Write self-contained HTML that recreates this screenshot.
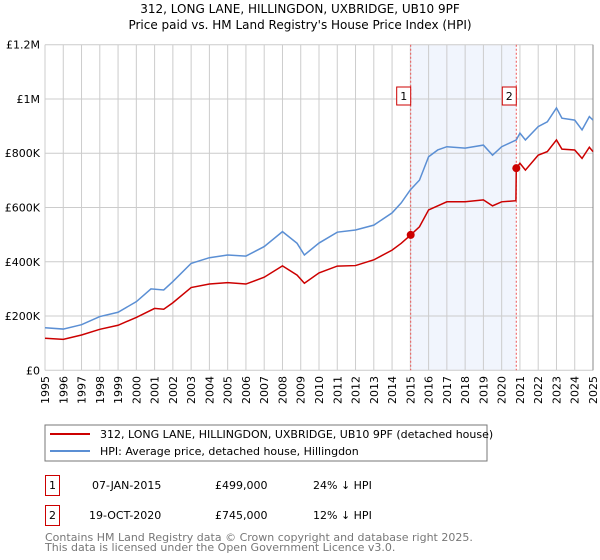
<!DOCTYPE html>
<html><head><meta charset="utf-8"><style>
body{margin:0;background:#fff;font-family:"DejaVu Sans","Liberation Sans",sans-serif;}
svg{display:block}
</style></head><body>
<svg width="600" height="560" viewBox="0 0 600 560">
<text x="300" y="13" text-anchor="middle" font-size="12">312, LONG LANE, HILLINGDON, UXBRIDGE, UB10 9PF</text>
<text x="300" y="29" text-anchor="middle" font-size="12">Price paid vs. HM Land Registry's House Price Index (HPI)</text>
<g id="plot"></g>
<rect x="45" y="425" width="442" height="36" fill="#fff" stroke="#777"/>
<line x1="50" y1="434" x2="90" y2="434" stroke="#cc0000" stroke-width="2"/>
<text x="100" y="438" font-size="11">312, LONG LANE, HILLINGDON, UXBRIDGE, UB10 9PF (detached house)</text>
<line x1="50" y1="451" x2="90" y2="451" stroke="#5b8fd4" stroke-width="2"/>
<text x="100" y="455" font-size="11">HPI: Average price, detached house, Hillingdon</text>
<g font-size="11">
<rect x="45.5" y="475.5" width="14" height="20" fill="#fff" stroke="#cc0000"/>
<text x="52.5" y="489" text-anchor="middle">1</text>
<text x="92" y="489">07-JAN-2015</text><text x="215" y="489">£499,000</text><text x="313" y="489">24% ↓ HPI</text>
<rect x="45.5" y="505.5" width="14" height="20" fill="#fff" stroke="#cc0000"/>
<text x="52.5" y="519" text-anchor="middle">2</text>
<text x="89" y="519">19-OCT-2020</text><text x="215" y="519">£745,000</text><text x="313" y="519">12% ↓ HPI</text>
</g>
<text x="45" y="541" font-size="11" fill="#777">Contains HM Land Registry data © Crown copyright and database right 2025.</text>
<text x="45" y="551" font-size="11" fill="#777">This data is licensed under the Open Government Licence v3.0.</text>
</svg>
<script>
const hpiYears=[1995,1996,1997,1998,1999,2000,2000.8,2001.5,2002,2003,2004,2005,2006,2007,2008,2008.8,2009.2,2010,2011,2012,2013,2014,2014.5,2015,2015.5,2016,2016.5,2017,2018,2019,2019.5,2020,2020.8,2021,2021.3,2022,2022.5,2023,2023.3,2024,2024.4,2024.8,2025];
const hpiValues=[157,152,168,198,214,253,300,296,327,394,415,425,421,456,511,468,425,469,509,517,535,580,617,665,701,787,812,824,819,830,793,824,849,874,849,898,916,967,929,922,886,935,922];
const redYears=[1995,1996,1997,1998,1999,2000,2001,2001.5,2002,2003,2004,2005,2006,2007,2008,2008.8,2009.2,2010,2011,2012,2013,2014,2014.5,2015.02,2015.5,2016,2017,2018,2019,2019.5,2020,2020.78,2020.8,2021,2021.3,2022,2022.5,2023,2023.3,2024,2024.4,2024.8,2025];
const redValues=[118,114,130,151,166,195,228,225,249,305,318,323,318,343,385,351,321,359,384,386,407,443,468,499,529,591,621,621,628,606,621,625,745,763,738,793,806,849,815,812,781,822,806];
const saleYears=[2015.02,2020.8];
const saleValues=[499,745];
const saleLabels=["1","2"];
const yTicks=[0,200,400,600,800,1000,1200];
const yTickLabels=["£0","£200K","£400K","£600K","£800K","£1M","£1.2M"];
const xTicks=[1995,1996,1997,1998,1999,2000,2001,2002,2003,2004,2005,2006,2007,2008,2009,2010,2011,2012,2013,2014,2015,2016,2017,2018,2019,2020,2021,2022,2023,2024,2025];

const X0=45,X1=593,Y0=370.3,Y1=44.7;
const xs=y=>X0+(y-1995)/30*(X1-X0);
const ys=v=>Y0-v/1200*(Y0-Y1);
const NS="http://www.w3.org/2000/svg";
const g=document.getElementById('plot');
function mk(t,a){const e=document.createElementNS(NS,t);for(const k in a)e.setAttribute(k,a[k]);g.appendChild(e);return e;}
let sh=mk('rect',{x:xs(saleYears[0]),y:Y1,width:xs(saleYears[1])-xs(saleYears[0]),height:Y0-Y1,fill:'#eef3fc',opacity:0.8});


xTicks.forEach(t=>{
 let l=mk('line',{x1:xs(t),x2:xs(t),y1:Y1,y2:Y0,stroke:'#ccc'});
 
 
 let tx=mk('text',{x:0,y:0,'font-size':11,'text-anchor':'end',transform:`translate(${xs(t)+4},376) rotate(-90)`});
 tx.textContent=t;
 
 
});
yTicks.forEach((t,i)=>{
 let l=mk('line',{x1:X0,x2:X1,y1:ys(t),y2:ys(t),stroke:'#ccc'});
 
 
 let tx=mk('text',{x:40,y:ys(t)+4,'font-size':11,'text-anchor':'end'});
 tx.textContent=yTickLabels[i];
 
 
});
let fr=mk('line',{x1:X1,x2:X1,y1:Y1,y2:Y0,stroke:'#888'});


saleYears.forEach((s,i)=>{
 let l=mk('line',{x1:xs(s),x2:xs(s),y1:Y1,y2:Y0,stroke:'#e55','stroke-dasharray':'2,2'});
 
 
});
let hp=mk('polyline',{points:hpiYears.map((y,i)=>xs(y)+','+ys(hpiValues[i])).join(' '),fill:'none',stroke:'#5b8fd4','stroke-width':1.5});


let rp=mk('polyline',{points:redYears.map((y,i)=>xs(y)+','+ys(redValues[i])).join(' '),fill:'none',stroke:'#cc0000','stroke-width':1.5});


saleYears.forEach((s,i)=>{
 let c=mk('circle',{cx:xs(s),cy:ys(saleValues[i]),r:4,fill:'#cc0000'});
 
 
 let b=mk('rect',{x:xs(s)-14,y:87,width:14,height:18,fill:'#fff',stroke:'#cc0000'});
 
 
 let t=mk('text',{x:xs(s)-7,y:100,'font-size':11,'text-anchor':'middle'});
 t.textContent=saleLabels[i];
 
 
});
</script>
</body></html>
